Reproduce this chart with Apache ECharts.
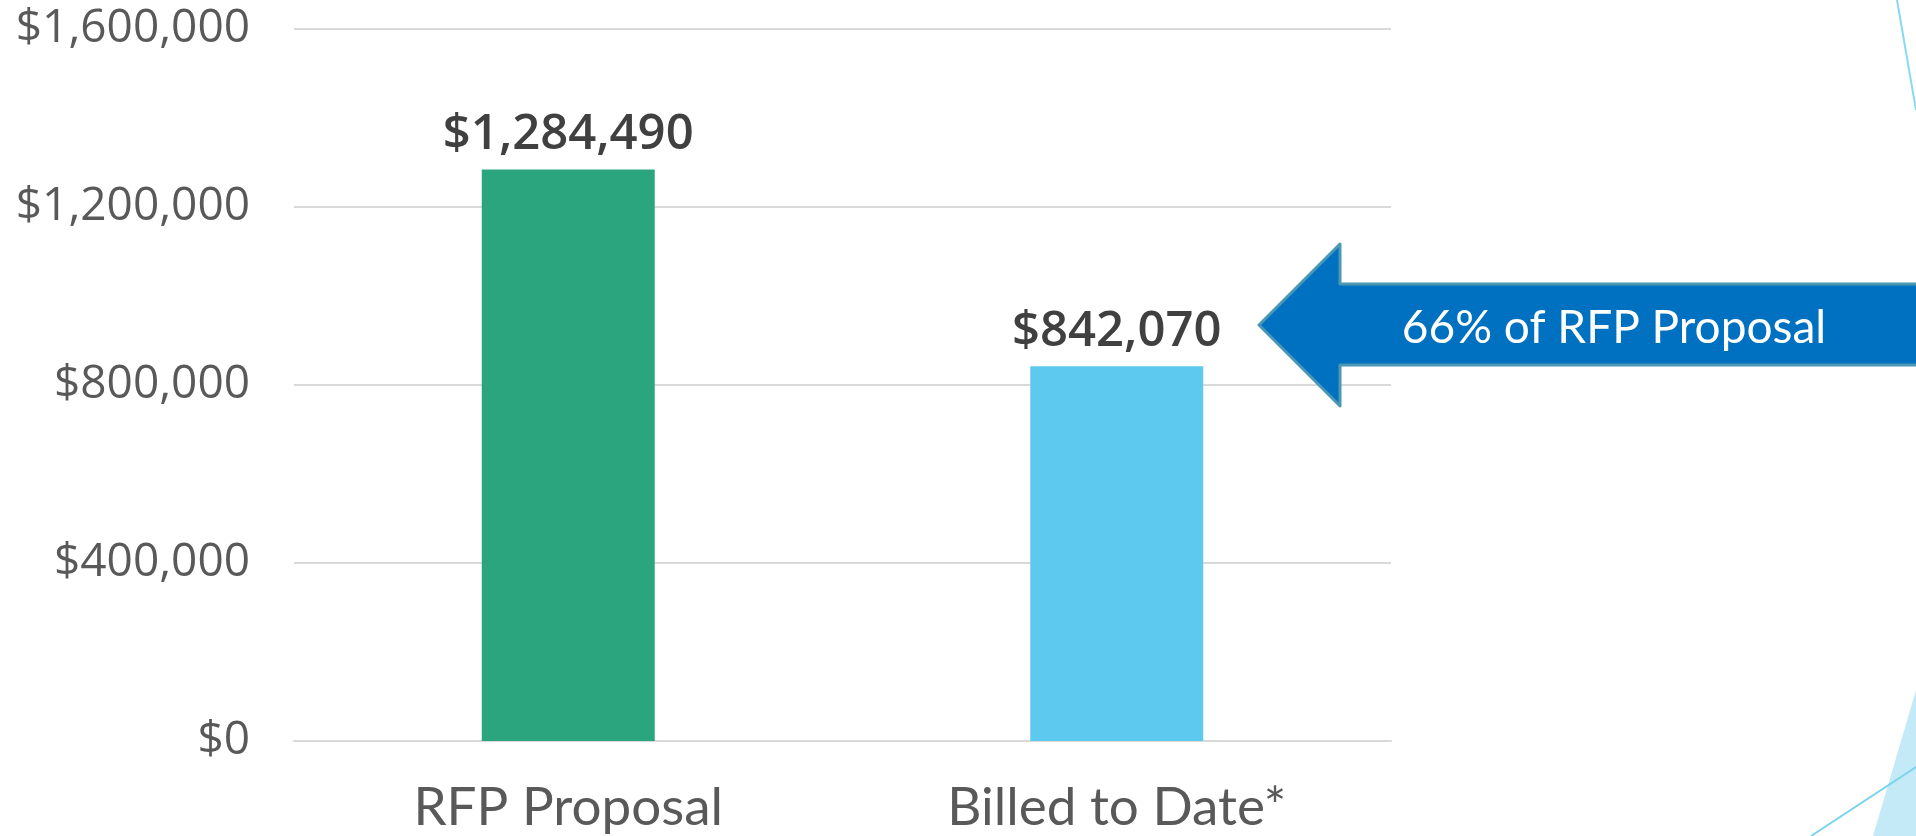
<!DOCTYPE html>
<html>
<head>
<meta charset="utf-8">
<script src="https://cdn.jsdelivr.net/npm/echarts@6/dist/echarts.min.js"></script>
<style>
  html, body { margin: 0; padding: 0; background: #fff; }
  #chart { width: 1916px; height: 836px; }
</style>
</head>
<body>
<div id="chart"></div>
<script>
// categories and values
const categories = ["RFP Proposal", "Billed to Date*"];
const amounts = [1284490, 842070];
const barColors = ["#2BA57D", "#5DC9EE"];
const yTicks = [0, 400000, 800000, 1200000, 1600000];
const calloutText = "66% of RFP Proposal";

function money(v) {
  return "$" + v.toLocaleString("en-US");
}

let myChart = echarts.init(document.getElementById("chart"));

let option = {
  backgroundColor: "#fff",
  animation: false,
  grid: { left: 294, right: 525, top: 29, bottom: 95 },
  xAxis: {
    type: "category",
    data: categories,
    axisLine: { show: true, lineStyle: { color: "#D9D9D9", width: 2 } },
    axisTick: { show: false },
    axisLabel: {
      color: "#595959",
      fontFamily: "Lato",
      fontSize: 53,
      margin: 40
    }
  },
  yAxis: {
    type: "value",
    min: yTicks[0],
    max: yTicks[yTicks.length - 1],
    interval: yTicks[1] - yTicks[0],
    axisLine: { show: false },
    axisTick: { show: false },
    splitLine: { lineStyle: { color: "#D9D9D9", width: 2 } },
    axisLabel: {
      color: "#595959",
      fontFamily: "Open Sans",
      fontSize: 46,
      margin: 44,
      formatter: v => money(v)
    }
  },
  series: [
    {
      type: "bar",
      barWidth: 173,
      data: amounts.map((v, i) => ({ value: v, itemStyle: { color: barColors[i] } })),
      label: {
        show: true,
        position: "top",
        distance: 10,
        color: "#404040",
        fontFamily: "Open Sans",
        fontWeight: 600,
        fontSize: 49,
        formatter: p => money(p.value)
      }
    }
  ],
  graphic: [
    // decorative slide lines on the right edge
    {
      type: "line",
      shape: { x1: 1897, y1: 0, x2: 1916, y2: 110 },
      style: { stroke: "#86DAF2", lineWidth: 2 }
    },
    {
      type: "polygon",
      shape: { points: [[1873, 836], [1916, 690], [1916, 836]] },
      style: { fill: "#C5EAF7" }
    },
    {
      type: "line",
      shape: { x1: 1811, y1: 836, x2: 1916, y2: 767 },
      style: { stroke: "#7DD3EE", lineWidth: 2 }
    },
    // callout arrow
    {
      type: "polygon",
      shape: {
        points: [[1259, 325], [1340, 244], [1340, 284], [1922, 284],
                 [1922, 365], [1340, 365], [1340, 406]]
      },
      style: { fill: "#0070C0", stroke: "#4A98B4", lineWidth: 3, lineJoin: "round" },
      z: 10
    },
    {
      type: "text",
      x: 1614,
      y: 328,
      style: {
        text: calloutText,
        fill: "#fff",
        font: "46px Lato",
        align: "center",
        verticalAlign: "middle"
      },
      z: 11
    }
  ]
};

myChart.setOption(option);
</script>
</body>
</html>
